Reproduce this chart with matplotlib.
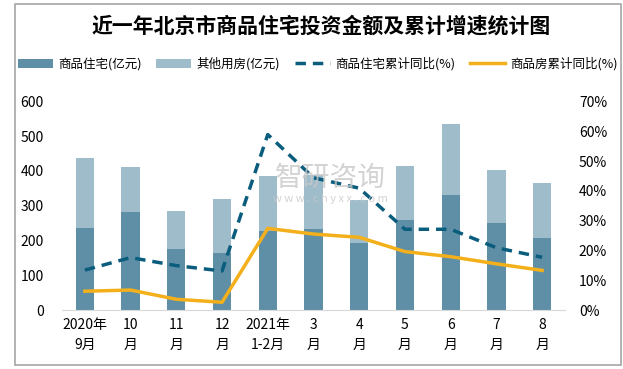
import numpy as np
import matplotlib.pyplot as plt
from matplotlib.patches import Rectangle
from matplotlib.ticker import FuncFormatter

plt.rcParams['font.family'] = ['Noto Sans CJK SC', 'DejaVu Sans']

# data
months = ['2020年\n9月', '10\n月', '11\n月', '12\n月', '2021年\n1-2月',
          '3\n月', '4\n月', '5\n月', '6\n月', '7\n月', '8\n月']
residential = [237, 283, 176, 164, 228, 234, 193, 260, 332, 251, 208]
total = [438, 412, 286, 320, 386, 388, 317, 415, 536, 404, 366]
other = [t - r for t, r in zip(total, residential)]
resi_growth = [13.4, 17.6, 14.9, 13.1, 58.9, 44.4, 40.9, 27.1, 27.1, 20.9, 17.7]
all_growth = [6.3, 6.7, 3.6, 2.6, 27.4, 25.5, 24.4, 19.6, 17.9, 15.5, 13.3]

dark = '#5e8fa7'
light = '#9fbccb'
navy = '#0b5d7e'
gold = '#f4b01b'

fig = plt.figure(figsize=(6.23, 3.69), dpi=100)
fig.patches.append(Rectangle((15 / 623, 4 / 369), 606 / 623, 361 / 369,
                             transform=fig.transFigure, fill=False,
                             edgecolor='#a6a6a6', linewidth=1.2))

ax = fig.add_axes([62 / 623, 1 - 310 / 369, 503 / 623, 208.5 / 369])
x = np.arange(len(months))
b1 = ax.bar(x, residential, width=0.4, color=dark, label='商品住宅(亿元)', zorder=2)
b2 = ax.bar(x, other, width=0.4, bottom=residential, color=light,
            label='其他用房(亿元)', zorder=2)
ax.set_ylim(0, 600)
ax.set_xlim(-0.5, len(months) - 0.5)
ax.set_yticks(range(0, 601, 100))
ax.set_xticks(x)
ax.set_xticklabels(months, fontsize=10, linespacing=1.5)
ax.tick_params(axis='both', length=0, labelsize=10)
ax.tick_params(axis='y', pad=13)
ax.tick_params(axis='x', pad=6)
for s in ['top', 'right', 'left']:
    ax.spines[s].set_visible(False)
ax.spines['bottom'].set_color('#d9d9d9')

ax2 = ax.twinx()
l1, = ax2.plot(x, resi_growth, color=navy, lw=2.5, ls=(0, (3, 2)),
               label='商品住宅累计同比(%)', zorder=3)
l2, = ax2.plot(x, all_growth, color=gold, lw=2.5, label='商品房累计同比(%)', zorder=3)
ax2.set_ylim(0, 70)
ax2.set_yticks(range(0, 71, 10))
ax2.yaxis.set_major_formatter(FuncFormatter(lambda v, p: f'{v:.0f}%'))
ax2.tick_params(axis='y', length=0, labelsize=10, pad=10)
for s in ['top', 'right', 'left', 'bottom']:
    ax2.spines[s].set_visible(False)

fig.text(0.515, 1 - 26 / 369, '近一年北京市商品住宅投资金额及累计增速统计图',
         ha='center', va='center', fontsize=15, fontweight='bold')
fig.legend(handles=[b1, b2, l1, l2], loc='center', ncol=4,
           bbox_to_anchor=(0.51, 1 - 64 / 369), frameon=False, fontsize=9,
           handlelength=2.8, columnspacing=1.2, handletextpad=0.4)

# watermark
fig.text(0.53, 1 - 178 / 369, '智研咨询', ha='center', va='center',
         fontsize=20, color='#c8c8c8', alpha=0.8, zorder=5)
fig.text(0.53, 1 - 199 / 369, 'w w w . c h y x x . c o m', ha='center',
         va='center', fontsize=8, color='#c8c8c8', alpha=0.8, zorder=5)

fig.savefig('out.png', dpi=100)
